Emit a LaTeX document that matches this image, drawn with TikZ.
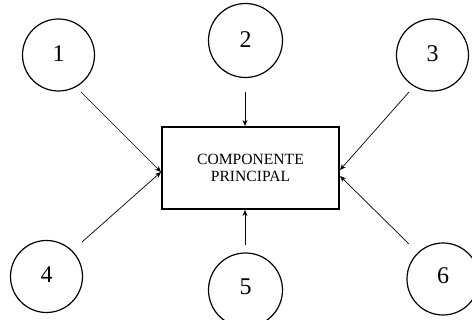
\documentclass[tikz,border=0pt]{standalone}
\usepackage{fontspec}
\setmainfont{Liberation Serif}
\usetikzlibrary{arrows.meta}
\begin{document}
\begin{tikzpicture}[x=1pt,y=-1pt,
  num/.style={circle,draw,line width=1.2pt,minimum size=72pt,inner sep=0pt,font=\fontsize{24}{24}\selectfont},
  mainbox/.style={draw,line width=2pt,minimum width=177pt,minimum height=82pt,align=center,inner sep=0pt,font=\fontsize{15.6}{17.5}\selectfont},
  arr/.style={line width=0.7pt,-{Stealth[length=6pt,width=5pt]}}]
\useasboundingbox (0,0) rectangle (472,320);
\node[mainbox] (box) at (250.5,168) {COMPONENTE\\PRINCIPAL};
\node[num] (c1) at (58.5,55) {\raisebox{3pt}{1}};
\node[num,minimum size=74pt] (c2) at (245.5,40.5) {\raisebox{2.5pt}{2}};
\node[num] (c3) at (432.5,55) {\raisebox{3pt}{3}};
\node[num] (c4) at (46.5,276.5) {\raisebox{3.5pt}{4}};
\node[num,minimum size=74pt] (c5) at (245.5,290) {\raisebox{7pt}{5}};
\node[num] (c6) at (443,279) {\raisebox{6pt}{6}};
\coordinate (s1) at (81,92);
\coordinate (s2) at (245,92);
\coordinate (s3) at (409,92);
\coordinate (s4) at (82,242);
\coordinate (s5) at (245,245);
\coordinate (s6) at (409,244);
\draw[arr] (s1) -- ([yshift=-4pt]box.west);
\draw[arr] (s4) -- ([yshift=-4pt]box.west);
\draw[arr] (s2) -- (box.north -| s2);
\draw[arr] (s5) -- (box.south -| s5);
\draw[arr] (s3) -- ([yshift=-2pt]box.east);
\draw[arr] (s6) -- ([yshift=-8pt]box.east);
\end{tikzpicture}
\end{document}
